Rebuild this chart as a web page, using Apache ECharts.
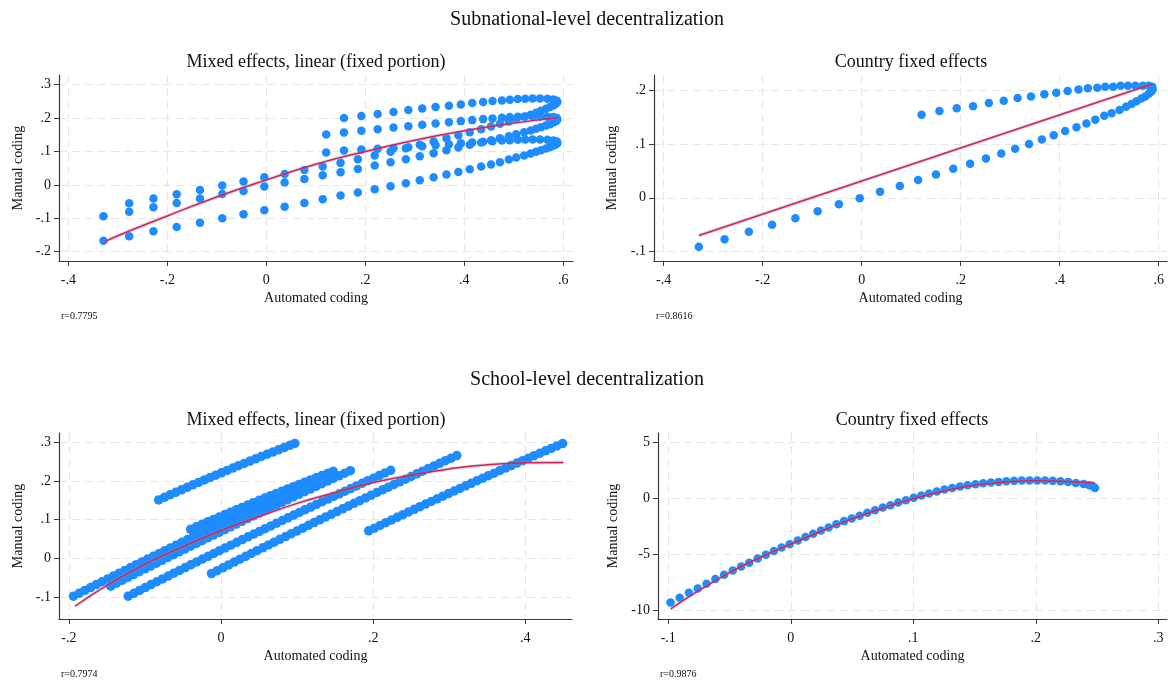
<!DOCTYPE html>
<html><head><meta charset="utf-8">
<script src="https://cdn.jsdelivr.net/npm/echarts@6/dist/echarts.min.js"></script>
<style>html,body{margin:0;padding:0;background:#fff}#c{width:1168px;height:682px}</style>
</head><body><div id="c"></div>
<script>
// ---------- Tick labels ----------
const ticksX12 = [-0.4, -0.2, 0, 0.2, 0.4, 0.6];
const ticksY1 = [-0.2, -0.1, 0, 0.1, 0.2, 0.3];
const ticksY2 = [-0.1, 0, 0.1, 0.2];
const ticksX3 = [-0.2, 0, 0.2, 0.4];
const ticksY3 = [-0.1, 0, 0.1, 0.2, 0.3];
const ticksX4 = [-0.1, 0, 0.1, 0.2, 0.3];
const ticksY4 = [-10, -5, 0, 5];

// ---------- Subnational: shared automated-coding positions ----------
const lowerX = [-0.329,-0.277,-0.228,-0.181,-0.134,-0.089,-0.046,-0.004,0.037,0.077,0.114,0.150,0.185,0.219,0.251,0.282,0.310,0.338,0.364,0.388,0.411,0.434,0.454,0.472,0.490,0.505,0.521,0.534,0.545,0.555,0.565,0.573,0.580,0.585,0.588];
const upperX = [0.587,0.580,0.568,0.553,0.538,0.523,0.508,0.492,0.476,0.457,0.438,0.416,0.393,0.369,0.342,0.315,0.287,0.257,0.225,0.192,0.157,0.121];

// Panel 1: mixed effects, three groups
const p1LowA = [-0.167,-0.154,-0.139,-0.126,-0.113,-0.100,-0.088,-0.076,-0.065,-0.054,-0.043,-0.032,-0.023,-0.013,-0.004,0.005,0.014,0.023,0.031,0.039,0.047,0.055,0.061,0.068,0.076,0.082,0.088,0.094,0.099,0.104,0.109,0.113,0.117,0.121,0.125];
const p1UpA = [0.130,0.133,0.135,0.136,0.136,0.136,0.135,0.134,0.133,0.131,0.129,0.127,0.125,0.122,0.119,0.116,0.113,0.110,0.108,0.106,0.103,0.097];
const p1LowB = [-0.094,-0.080,-0.067,-0.054,-0.041,-0.027,-0.018,-0.005,0.007,0.018,0.029,0.038,0.048,0.058,0.068,0.077,0.086,0.095,0.104,0.112,0.120,0.127,0.134,0.140,0.146,0.152,0.158,0.163,0.168,0.173,0.178,0.182,0.187,0.191,0.195];
const p1UpB = [0.200,0.203,0.204,0.205,0.205,0.205,0.204,0.203,0.201,0.199,0.197,0.194,0.191,0.188,0.184,0.180,0.176,0.172,0.167,0.162,0.157,0.151];
const p1LowC = [null,-0.055,-0.041,-0.028,-0.015,-0.002,0.010,0.023,0.033,0.045,0.055,0.066,0.077,0.088,0.099,0.110,0.120,0.130,0.140,0.149,0.158,0.167,0.175,0.183,0.190,0.197,0.204,0.210,0.216,0.222,0.228,0.233,0.238,0.243,0.248];
const p1UpC = [0.252,0.256,0.258,0.259,0.259,0.258,0.257,0.255,0.253,0.251,0.248,0.245,0.241,0.237,0.233,0.229,0.224,0.218,0.212,0.206,0.200,null];
const p1FitX = [-0.329,-0.3,-0.2,-0.1,0,0.1,0.2,0.3,0.4,0.5,0.589];
const p1FitY = [-0.172,-0.152,-0.093,-0.036,0.015,0.062,0.100,0.134,0.162,0.185,0.202];

// Panel 2: country fixed effects
const p2Low = [-0.091,-0.077,-0.063,-0.050,-0.038,-0.025,-0.012,-0.001,0.011,0.022,0.033,0.043,0.054,0.063,0.073,0.082,0.091,0.100,0.108,0.116,0.124,0.131,0.138,0.145,0.152,0.157,0.163,0.169,0.174,0.179,0.184,0.188,0.193,0.197,0.201];
const p2Up = [0.206,0.208,0.208,0.208,0.208,0.208,0.206,0.206,0.204,0.203,0.201,0.198,0.195,0.192,0.188,0.185,0.180,0.176,0.170,0.166,0.161,0.154];
const p2FitX = [-0.329, 0, 0.587];
const p2FitY = [-0.070, 0.031, 0.211];

// Panel 3: school-level, mixed effects (groups)
const p3aX = [-0.082,-0.0745,-0.067,-0.0595,-0.052,-0.0445,-0.037,-0.0295,-0.022,-0.0145,-0.007,0.0005,0.008,0.0155,0.023,0.0305,0.038,0.0455,0.053,0.0605,0.068,0.0755,0.083,0.0905,0.097];
const p3aY = [0.151,0.1576,0.1641,0.1706,0.1771,0.1835,0.1899,0.1962,0.2025,0.2088,0.215,0.2211,0.2273,0.2334,0.2394,0.2454,0.2514,0.2573,0.2632,0.269,0.2748,0.2806,0.2863,0.292,0.297];
const p3b0X = [-0.04,-0.0325,-0.025,-0.0175,-0.01,-0.0025,0.005,0.0125,0.02,0.0275,0.035,0.0425,0.05,0.0575,0.065,0.0725,0.08,0.0875,0.095,0.1025,0.11,0.1175,0.125,0.1325,0.14,0.1475];
const p3b0Y = [0.075,0.0814,0.0878,0.0942,0.1005,0.1068,0.1131,0.1193,0.1255,0.1316,0.1377,0.1438,0.1498,0.1558,0.1618,0.1677,0.1736,0.1794,0.1853,0.1911,0.1968,0.2025,0.2082,0.2138,0.2194,0.225];
const p3b1X = [-0.194,-0.1865,-0.179,-0.1715,-0.164,-0.1565,-0.149,-0.1415,-0.134,-0.1265,-0.119,-0.1115,-0.104,-0.0965,-0.089,-0.0815,-0.074,-0.0665,-0.059,-0.0515,-0.044,-0.0365,-0.029,-0.0215,-0.014,-0.0065,0.001,0.0085,0.016,0.0235,0.031,0.0385,0.046,0.0535,0.061,0.0685,0.076,0.0835,0.091,0.0985,0.106,0.1135,0.121,0.1285,0.136,0.1435];
const p3b1Y = [-0.098,-0.0905,-0.083,-0.0756,-0.0681,-0.0607,-0.0533,-0.046,-0.0386,-0.0313,-0.0239,-0.0166,-0.0093,-0.0021,0.0052,0.0124,0.0196,0.0268,0.034,0.0412,0.0483,0.0554,0.0625,0.0696,0.0767,0.0837,0.0907,0.0977,0.1047,0.1117,0.1187,0.1256,0.1325,0.1394,0.1463,0.1531,0.16,0.1668,0.1736,0.1804,0.1872,0.1939,0.2006,0.2073,0.214,0.2207];
const p3b2X = [-0.145,-0.1375,-0.13,-0.1225,-0.115,-0.1075,-0.1,-0.0925,-0.085,-0.0775,-0.07,-0.0625,-0.055,-0.0475,-0.04,-0.0325,-0.025,-0.0175,-0.01,-0.0025,0.005,0.0125,0.02,0.0275,0.035,0.0425,0.05,0.0575,0.065,0.0725,0.08,0.0875,0.095,0.1025,0.11,0.1175,0.125,0.1325,0.14,0.1475,0.155,0.1625,0.17];
const p3b2Y = [-0.072,-0.0645,-0.057,-0.0496,-0.0421,-0.0347,-0.0273,-0.02,-0.0126,-0.0053,0.0021,0.0094,0.0167,0.0239,0.0312,0.0384,0.0456,0.0528,0.06,0.0672,0.0743,0.0814,0.0885,0.0956,0.1027,0.1097,0.1167,0.1237,0.1307,0.1377,0.1447,0.1516,0.1585,0.1654,0.1723,0.1791,0.186,0.1928,0.1996,0.2064,0.2132,0.2199,0.2266];
const p3cX = [-0.122,-0.1145,-0.107,-0.0995,-0.092,-0.0845,-0.077,-0.0695,-0.062,-0.0545,-0.047,-0.0395,-0.032,-0.0245,-0.017,-0.0095,-0.002,0.0055,0.013,0.0205,0.028,0.0355,0.043,0.0505,0.058,0.0655,0.073,0.0805,0.088,0.0955,0.103,0.1105,0.118,0.1255,0.133,0.1405,0.148,0.1555,0.163,0.1705,0.178,0.1855,0.193,0.2005,0.208,0.2155,0.223];
const p3cY = [-0.098,-0.0905,-0.083,-0.0756,-0.0681,-0.0607,-0.0533,-0.046,-0.0386,-0.0313,-0.0239,-0.0166,-0.0093,-0.0021,0.0052,0.0124,0.0196,0.0268,0.034,0.0412,0.0483,0.0554,0.0625,0.0696,0.0767,0.0837,0.0907,0.0977,0.1047,0.1117,0.1187,0.1256,0.1325,0.1394,0.1463,0.1531,0.16,0.1668,0.1736,0.1804,0.1872,0.1939,0.2006,0.2073,0.214,0.2207,0.2274];
const p3dX = [-0.0126,-0.0051,0.0024,0.0099,0.0174,0.0249,0.0324,0.0399,0.0474,0.0549,0.0624,0.0699,0.0774,0.0849,0.0924,0.0999,0.1074,0.1149,0.1224,0.1299,0.1374,0.1449,0.1524,0.1599,0.1674,0.1749,0.1824,0.1899,0.1974,0.2049,0.2124,0.2199,0.2274,0.2349,0.2424,0.2499,0.2574,0.2649,0.2724,0.2799,0.2874,0.2949,0.3024,0.3099];
const p3dY = [-0.0396,-0.0321,-0.0246,-0.0172,-0.0097,-0.0023,0.0051,0.0124,0.0198,0.0271,0.0345,0.0418,0.0491,0.0563,0.0636,0.0708,0.078,0.0852,0.0924,0.0996,0.1067,0.1138,0.1209,0.128,0.1351,0.1421,0.1491,0.1561,0.1631,0.1701,0.1771,0.184,0.1909,0.1978,0.2047,0.2115,0.2184,0.2252,0.232,0.2388,0.2456,0.2523,0.259,0.2657];
const p3eX = [0.194,0.2015,0.209,0.2165,0.224,0.2315,0.239,0.2465,0.254,0.2615,0.269,0.2765,0.284,0.2915,0.299,0.3065,0.314,0.3215,0.329,0.3365,0.344,0.3515,0.359,0.3665,0.374,0.3815,0.389,0.3965,0.404,0.4115,0.419,0.4265,0.434,0.4415,0.449];
const p3eY = [0.071,0.078,0.0851,0.092,0.099,0.106,0.1129,0.1198,0.1266,0.1335,0.1403,0.1471,0.1539,0.1606,0.1673,0.174,0.1807,0.1874,0.194,0.2006,0.2072,0.2137,0.2202,0.2268,0.2332,0.2397,0.2461,0.2525,0.2589,0.2653,0.2716,0.2779,0.2842,0.2905,0.2967];
const p3FitX = [-0.192,-0.15,-0.1,-0.05,0,0.05,0.1,0.15,0.2,0.25,0.3,0.35,0.4,0.45];
const p3FitY = [-0.124,-0.070,-0.015,0.030,0.072,0.108,0.142,0.170,0.196,0.215,0.231,0.242,0.247,0.248];

// Panel 4: school-level, country fixed effects
const p4X = [-0.0982,-0.0907,-0.0832,-0.0760,-0.0688,-0.0616,-0.0544,-0.0474,-0.0405,-0.0339,-0.0270,-0.0204,-0.0138,-0.0075,-0.0009,0.0057,0.0120,0.0183,0.0246,0.0309,0.0372,0.0435,0.0498,0.0562,0.0625,0.0688,0.0751,0.0814,0.0877,0.0940,0.1003,0.1066,0.1129,0.1192,0.1255,0.1318,0.1381,0.1444,0.1508,0.1571,0.1634,0.1697,0.1760,0.1823,0.1886,0.1949,0.2012,0.2075,0.2138,0.2201,0.2264,0.2327,0.2390,0.2438,0.2468,0.2483];
const p4Y = [-9.32,-8.90,-8.45,-8.07,-7.65,-7.23,-6.85,-6.46,-6.10,-5.77,-5.39,-5.06,-4.73,-4.40,-4.11,-3.78,-3.48,-3.18,-2.89,-2.62,-2.32,-2.05,-1.82,-1.58,-1.31,-1.07,-0.83,-0.63,-0.39,-0.18,0.03,0.24,0.42,0.60,0.77,0.92,1.04,1.16,1.25,1.34,1.40,1.46,1.52,1.55,1.58,1.58,1.58,1.58,1.55,1.52,1.46,1.37,1.28,1.16,1.04,0.92];
const p4FitX = [-0.098,-0.075,-0.05,-0.025,0,0.025,0.05,0.075,0.1,0.125,0.15,0.175,0.2,0.225,0.248];
const p4FitY = [-9.9,-8.25,-6.65,-5.3,-4.1,-2.95,-1.85,-0.9,-0.05,0.65,1.15,1.45,1.55,1.5,1.35];

// ---------- Build ----------
const F = '"Liberation Serif", "Times New Roman", serif';
const DOT = '#1e8cff', FIT = '#d4215f';
function zip(xs, ys) { const o = []; const n = Math.min(xs.length, ys.length); for (let i = 0; i < n; i++) if (ys[i] != null) o.push([xs[i], ys[i]]); return o; }
function fmt(v) { return String(+(+v).toFixed(4)).replace(/^(-?)0\./, '$1.'); }

const axisLine = {show: true, onZero: false, lineStyle: {color: '#3a3a3a', width: 1.2}};
const split = {show: true, lineStyle: {color: '#e6e6e6', width: 1.2, type: [8, 5]}};
function xAx(gi, min, max, ticks) {
  return {type: 'value', gridIndex: gi, min: min, max: max, name: 'Automated coding', nameLocation: 'middle', nameGap: 30,
    nameTextStyle: {fontFamily: F, fontSize: 14, color: '#111'},
    axisLine: axisLine, axisTick: {show: true, length: 5, customValues: ticks, lineStyle: {color: '#3a3a3a'}},
    axisLabel: {customValues: ticks, formatter: fmt, margin: 12, fontFamily: F, fontSize: 14, color: '#111'},
    splitLine: split};
}
function yAx(gi, min, max, ticks, gap) {
  return {type: 'value', gridIndex: gi, min: min, max: max, name: 'Manual coding', nameLocation: 'middle', nameGap: gap,
    nameTextStyle: {fontFamily: F, fontSize: 14, color: '#111'},
    axisLine: axisLine, axisTick: {show: true, length: 5, customValues: ticks, lineStyle: {color: '#3a3a3a'}},
    axisLabel: {customValues: ticks, formatter: fmt, margin: 8, fontFamily: F, fontSize: 14, color: '#111'},
    splitLine: split};
}
function dots(gi, data, size) {
  return {type: 'scatter', xAxisIndex: gi, yAxisIndex: gi, data: data, symbol: 'circle', symbolSize: size,
    itemStyle: {color: DOT, opacity: 1}, silent: true, animation: false};
}
function fit(gi, data) {
  return [
    {type: 'line', xAxisIndex: gi, yAxisIndex: gi, data: data, showSymbol: false, smooth: true,
     lineStyle: {color: 'rgba(150,150,150,0.35)', width: 3.5}, silent: true, animation: false},
    {type: 'line', xAxisIndex: gi, yAxisIndex: gi, data: data, showSymbol: false, smooth: true,
     lineStyle: {color: FIT, width: 1.5}, silent: true, animation: false}
  ];
}

const p1 = [].concat(zip(lowerX, p1LowA), zip(upperX, p1UpA), zip(lowerX, p1LowB), zip(upperX, p1UpB), zip(lowerX, p1LowC), zip(upperX, p1UpC));
const p2 = [].concat(zip(lowerX, p2Low), zip(upperX, p2Up));
const p3 = [].concat(zip(p3aX, p3aY), zip(p3b0X, p3b0Y), zip(p3b1X, p3b1Y), zip(p3b2X, p3b2Y), zip(p3cX, p3cY), zip(p3dX, p3dY), zip(p3eX, p3eY));
const p4 = zip(p4X, p4Y);

function txt(t, x, y, size, align) {
  return {type: 'text', x: x, y: y, silent: true,
    style: {text: t, font: size + 'px ' + F, fill: '#111', align: align || 'center', verticalAlign: 'middle'}};
}

const chart = echarts.init(document.getElementById('c'), null, {renderer: 'canvas'});
chart.setOption({
  backgroundColor: '#fff',
  animation: false,
  grid: [
    {left: 59, top: 75, width: 514, height: 186, containLabel: false, outerBoundsMode: 'none'},
    {left: 654, top: 75, width: 513, height: 186, containLabel: false, outerBoundsMode: 'none'},
    {left: 59, top: 433, width: 513, height: 186, containLabel: false, outerBoundsMode: 'none'},
    {left: 658, top: 433, width: 509, height: 186, containLabel: false, outerBoundsMode: 'none'}
  ],
  xAxis: [xAx(0, -0.4188, 0.6196, ticksX12), xAx(1, -0.4196, 0.6168, ticksX12), xAx(2, -0.213, 0.4613, ticksX3), xAx(3, -0.1084, 0.3071, ticksX4)],
  yAxis: [yAx(0, -0.2278, 0.3291, ticksY1, 34), yAx(1, -0.1173, 0.2278, ticksY2, 35), yAx(2, -0.157, 0.324, ticksY3, 34), yAx(3, -10.805, 5.832, ticksY4, 38)],
  series: [].concat(
    [dots(0, p1, 8.5)], fit(0, zip(p1FitX, p1FitY)),
    [dots(1, p2, 8.5)], fit(1, zip(p2FitX, p2FitY)),
    [dots(2, p3, 9.5)], fit(2, zip(p3FitX, p3FitY)),
    [dots(3, p4, 8.5)], fit(3, zip(p4FitX, p4FitY))
  ),
  graphic: [
    txt('Subnational-level decentralization', 587, 20, 20),
    txt('Mixed effects, linear (fixed portion)', 316, 62, 18),
    txt('Country fixed effects', 911, 62, 18),
    txt('School-level decentralization', 587, 380, 20),
    txt('Mixed effects, linear (fixed portion)', 316, 420, 18),
    txt('Country fixed effects', 912, 420, 18),
    txt('r=0.7795', 61, 316, 10, 'left'),
    txt('r=0.8616', 656, 316, 10, 'left'),
    txt('r=0.7974', 61, 674, 10, 'left'),
    txt('r=0.9876', 660, 674, 10, 'left')
  ]
});
</script></body></html>
